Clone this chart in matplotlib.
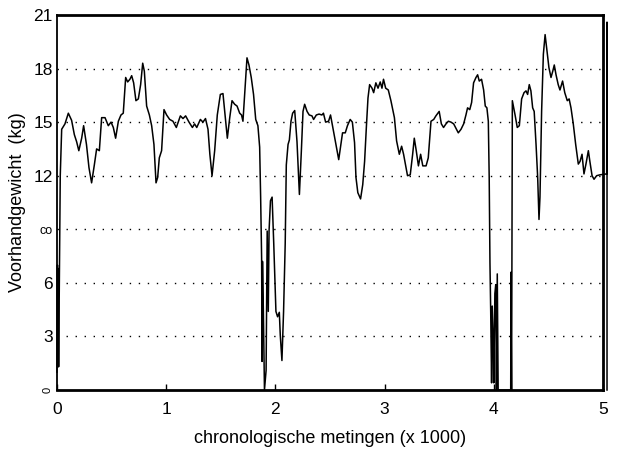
import matplotlib
matplotlib.use('Agg')
from matplotlib import pyplot as plt
import numpy as np

plt.rcParams['font.family'] = ['Liberation Sans', 'DejaVu Sans']

x_k = [0.000, 0.004, 0.007, 0.010, 0.015, 0.030, 0.043, 0.073, 0.104, 0.134,
       0.159, 0.180, 0.200, 0.226, 0.244, 0.270, 0.293, 0.317, 0.342, 0.363,
       0.388, 0.409, 0.440, 0.470, 0.495, 0.516, 0.537, 0.562, 0.586, 0.607,
       0.629, 0.647, 0.668, 0.684, 0.702, 0.723, 0.745, 0.766, 0.785, 0.800,
       0.821, 0.846, 0.867, 0.888, 0.907, 0.922, 0.937, 0.958, 0.980, 1.004,
       1.032, 1.062, 1.093, 1.130, 1.154, 1.178, 1.209, 1.240, 1.260, 1.280,
       1.313, 1.337, 1.360, 1.383, 1.400, 1.420, 1.444, 1.468, 1.496, 1.520,
       1.542, 1.560, 1.582, 1.603, 1.627, 1.649, 1.673, 1.690, 1.703, 1.719,
       1.740, 1.758, 1.779, 1.800, 1.820, 1.840, 1.856, 1.865, 1.874, 1.878,
       1.882, 1.890, 1.900, 1.915, 1.925, 1.935, 1.942, 1.955, 1.970, 1.985,
       2.005, 2.020, 2.036, 2.045, 2.060, 2.075, 2.090, 2.100, 2.116, 2.128,
       2.143, 2.158, 2.177, 2.198, 2.220, 2.238, 2.253, 2.268, 2.290, 2.310,
       2.335, 2.350, 2.375, 2.400, 2.426, 2.440, 2.460, 2.487, 2.505, 2.523,
       2.548, 2.580, 2.600, 2.615, 2.640, 2.660, 2.685, 2.705, 2.725, 2.738,
       2.755, 2.780, 2.800, 2.817, 2.833, 2.848, 2.863, 2.885, 2.900, 2.920,
       2.940, 2.960, 2.976, 2.990, 3.010, 3.034, 3.058, 3.090, 3.110, 3.135,
       3.156, 3.174, 3.196, 3.210, 3.235, 3.257, 3.272, 3.290, 3.310, 3.330,
       3.350, 3.380, 3.400, 3.425, 3.450, 3.470, 3.500, 3.520, 3.540, 3.562,
       3.584, 3.608, 3.633, 3.654, 3.675, 3.700, 3.724, 3.745, 3.760, 3.780,
       3.797, 3.815, 3.837, 3.852, 3.867, 3.888, 3.907, 3.922, 3.937, 3.950,
       3.958, 3.965, 3.972, 3.980, 3.986, 3.993, 4.000, 4.010, 4.018, 4.024,
       4.032, 4.040, 4.060, 4.155, 4.158, 4.160, 4.163, 4.170, 4.195, 4.215,
       4.234, 4.255, 4.277, 4.295, 4.310, 4.325, 4.340, 4.356, 4.370, 4.387,
       4.402, 4.414, 4.423, 4.438, 4.454, 4.470, 4.484, 4.505, 4.524, 4.540,
       4.554, 4.570, 4.590, 4.606, 4.630, 4.650, 4.673, 4.690, 4.707, 4.728,
       4.750, 4.774, 4.790, 4.808, 4.826, 4.844, 4.866, 4.880, 4.900, 4.918,
       4.942, 4.973, 5.034, 5.037, 5.037]
weight_kg = [1.0, 7.0, 1.3, 6.8, 1.3, 12.0, 14.6, 14.9, 15.5, 15.1,
             14.3, 13.9, 13.4, 14.1, 14.8, 13.75, 12.45, 11.6, 12.6, 13.5,
             13.4, 15.25, 15.25, 14.8, 15.0, 14.7, 14.1, 15.05, 15.4, 15.5,
             17.5, 17.25, 17.4, 17.6, 17.2, 16.2, 16.3, 17.1, 18.3, 17.85,
             15.9, 15.4, 14.8, 13.75, 11.6, 11.9, 13.0, 13.4, 15.7, 15.4,
             15.15, 15.05, 14.7, 15.35, 15.2, 15.35, 15.0, 14.7, 14.9, 14.7,
             15.15, 15.0, 15.2, 14.6, 13.2, 12.0, 13.4, 15.4, 16.55, 16.6,
             15.25, 14.1, 15.25, 16.2, 16.0, 15.9, 15.5, 15.4, 15.05, 16.55,
             18.6, 18.2, 17.5, 16.55, 15.15, 14.8, 13.6, 10.8, 7.4, 1.6,
             7.2, 4.4, 0.0, 1.1, 8.9, 4.4, 8.9, 10.6, 10.8, 8.2,
             4.4, 4.1, 4.35, 3.05, 1.65, 4.4, 8.2, 12.6, 13.75, 14.0,
             15.05, 15.5, 15.65, 13.9, 10.95, 13.4, 15.6, 16.0, 15.6, 15.4,
             15.35, 15.15, 15.4, 15.45, 15.4, 15.5, 15.0, 15.05, 15.4, 14.8,
             13.95, 12.9, 13.75, 14.4, 14.4, 14.8, 15.15, 15.0, 13.85, 11.9,
             11.05, 10.7, 11.5, 12.8, 14.7, 16.35, 17.1, 16.9, 16.65, 17.2,
             16.9, 17.25, 16.9, 17.4, 16.9, 16.8, 16.2, 15.25, 13.95, 13.2,
             13.65, 13.2, 12.45, 12.0, 12.05, 13.2, 14.1, 13.4, 12.55, 13.2,
             12.55, 12.55, 13.0, 15.05, 15.15, 15.35, 15.6, 14.9, 14.7, 14.9,
             15.05, 15.0, 14.9, 14.65, 14.4, 14.6, 14.9, 15.4, 15.8, 15.7,
             16.1, 17.2, 17.5, 17.65, 17.3, 17.4, 16.8, 15.9, 15.8, 15.05,
             11.9, 7.1, 4.3, 0.4, 4.7, 3.2, 0.4, 5.4, 5.9, 0.0,
             6.5, 0.0, 0.0, 0.0, 6.6, 2.7, 0.0, 16.2, 15.4, 14.7,
             14.8, 16.3, 16.65, 16.75, 16.55, 17.1, 16.75, 15.8, 15.6, 13.75,
             11.9, 9.55, 10.8, 15.6, 18.8, 19.9, 19.15, 18.05, 17.5, 17.85,
             18.2, 17.65, 17.1, 16.8, 17.3, 16.65, 16.2, 16.3, 15.8, 14.9,
             13.75, 12.65, 12.8, 13.2, 12.1, 12.65, 13.4, 12.8, 12.0, 11.8,
             12.0, 12.05, 12.1, 20.6, 0.0]

y_ticks = [0, 3, 6, 9, 12, 15, 18, 21]
y_tick_labels = ['0', '3', '6', 'co', '12', '15', '18', '21']
x_ticks = [0, 1, 2, 3, 4, 5]

fig = plt.figure(figsize=(6.18, 4.58), dpi=100)
ax = fig.add_axes([0.0922, 0.1485, 0.8835, 0.8188])

ax.plot(x_k, weight_kg, color='black', lw=1.1, clip_on=False)

ax.set_xlim(0, 5)
ax.set_ylim(0, 21)
ax.set_xticks(x_ticks)
ax.set_yticks(y_ticks)
ax.set_xticklabels([str(t) for t in x_ticks], fontsize=12.5)
ax.set_yticklabels(y_tick_labels, fontsize=12.5)

# the scanned 0 and 9 labels came out small (the 0 also sideways)
labs = ax.get_yticklabels()
labs[0].set_rotation(90)
labs[0].set_fontsize(8)
labs[0].set_va('center')
labs[3].set_fontsize(9)

ax.tick_params(axis='x', direction='in', length=4, width=1, pad=9)
ax.tick_params(axis='y', length=0, pad=3)

for g in y_ticks[1:-1]:
  ax.axhline(g, color='black', lw=1.0, linestyle=(0, (1, 5.5)))

for side in ['top', 'bottom', 'right']:
  ax.spines[side].set_linewidth(2.0)
ax.spines['left'].set_linewidth(1.3)

ax.set_xlabel('chronologische metingen (x 1000)', fontsize=13)
ax.set_ylabel('Voorhandgewicht  (kg)', fontsize=13)
ax.xaxis.set_label_coords(0.5, -0.108)
ax.yaxis.set_label_coords(-0.057, 0.5)

fig.savefig('out.png', dpi=100)
